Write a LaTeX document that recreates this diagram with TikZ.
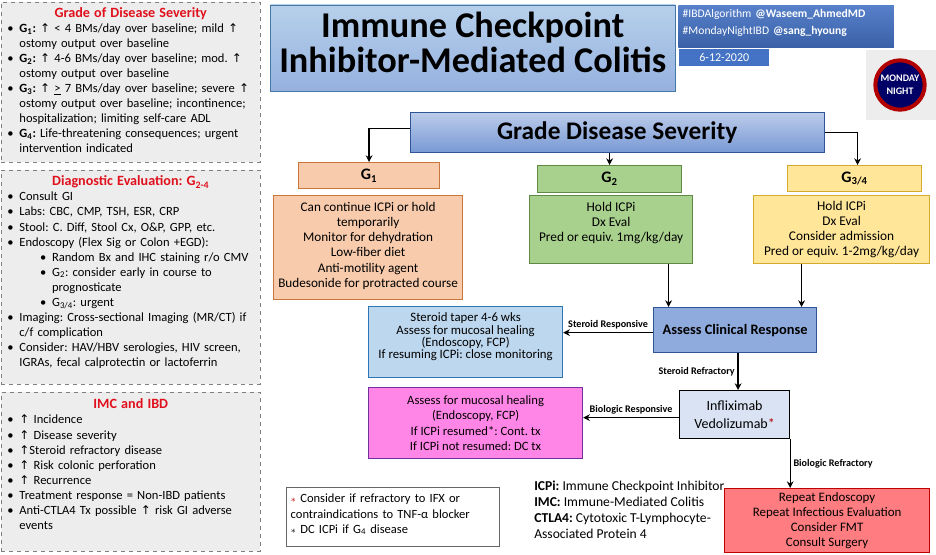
\documentclass[tikz,border=0pt]{standalone}
\usepackage{fontspec}
\setmainfont{Carlito}
\newfontfamily\symfont{DejaVu Sans}
\usetikzlibrary{arrows.meta, positioning, calc}
\frenchspacing

\definecolor{headred}{HTML}{E0101C}
\definecolor{panelgray}{HTML}{EDEDED}
\definecolor{orangefill}{HTML}{F8CBAD}
\definecolor{orangeline}{HTML}{C8763C}
\definecolor{greenfill}{HTML}{A9D18E}
\definecolor{greenline}{HTML}{5F8A43}
\definecolor{yellowfill}{HTML}{FFE699}
\definecolor{yellowline}{HTML}{D6A92F}
\definecolor{bluefill}{HTML}{BDD7EE}
\definecolor{blueline}{HTML}{2E75B6}
\definecolor{pinkfill}{HTML}{FF85E6}
\definecolor{pinkline}{HTML}{7030A0}
\definecolor{redfill}{HTML}{FF7C80}
\definecolor{redline}{HTML}{C00000}
\definecolor{paleblue}{HTML}{DAE3F3}
\definecolor{midblue}{HTML}{8FAADC}
\definecolor{darkblue}{HTML}{2F5597}
\definecolor{tagblue}{HTML}{4472C4}
\newcommand{\upar}{{\symfont\fontsize{9}{9}\selectfont ↑}}
\newcommand{\bul}[2][0pt]{\par\noindent\hspace*{#1}\makebox[11.5pt][l]{\hspace{2.5pt}\textbullet}\makebox[0pt][l]{#2}}
\newcommand{\cont}[2][0pt]{\par\noindent\hspace*{\dimexpr#1+11.5pt\relax}\makebox[0pt][l]{#2}}
\newcommand{\headline}[1]{{\centering\fontsize{10.6}{11.3}\selectfont\bfseries\color{headred}#1\par}}
\newcommand{\pad}[1]{\par\nointerlineskip\noindent\rule{0pt}{#1}\par}

\begin{document}
\begin{tikzpicture}[x=0.75pt, y=-0.75pt, >={Stealth[length=5pt,width=5pt]},
    every node/.style={font=\fontsize{10}{11.4}\selectfont},
    panel/.style={rectangle, draw=black!50, dashed, fill=panelgray, anchor=north west, inner xsep=2pt, inner ysep=2pt, text width=190pt, minimum width=194.25pt, align=left, font=\fontsize{9.4}{11.3}\selectfont},
    grade/.style={rectangle, line width=0.9pt, fill=#1, anchor=north west, align=center, inner ysep=1pt},
    flow/.style={->, line width=1pt},
    tag/.style={font=\fontsize{7.6}{9}\selectfont\bfseries, inner sep=2pt},
]
\useasboundingbox (0,0) rectangle (936,554);

% Left panels
\node[panel, minimum height=120pt] (severity) at (1,2) {%
  \headline{Grade of Disease Severity}
  \bul{\textbf{G\textsubscript{1}:} \upar{} < 4 BMs/day over baseline; mild \upar}
  \cont{ostomy output over baseline}
  \bul{\textbf{G\textsubscript{2}:} \upar{} 4-6 BMs/day over baseline; mod. \upar}
  \cont{ostomy output over baseline}
  \bul{\textbf{G\textsubscript{3}:} \upar{} \underline{>} 7 BMs/day over baseline; severe \upar}
  \cont{ostomy output over baseline; incontinence;}
  \cont{hospitalization; limiting self-care ADL}
  \bul{\textbf{G\textsubscript{4}:} Life-threatening consequences; urgent}
  \cont{intervention indicated}\pad{3pt}};
\node[panel, minimum height=160.5pt] (workup) at (1,170) {%
  \headline{Diagnostic Evaluation: G\textsubscript{2-4}}
  \bul{Consult GI}
  \bul{Labs: CBC, CMP, TSH, ESR, CRP}
  \bul{Stool: C. Diff, Stool Cx, O\&P, GPP, etc.}
  \bul{Endoscopy (Flex Sig or Colon +EGD):}
  \bul[24.5pt]{Random Bx and IHC staining r/o CMV}
  \bul[24.5pt]{G\textsubscript{2}: consider early in course to}
  \cont[24.5pt]{prognosticate}
  \bul[24.5pt]{G\textsubscript{3/4}: urgent}
  \bul{Imaging: Cross-sectional Imaging (MR/CT) if}
  \cont{c/f complication}
  \bul{Consider: HAV/HBV serologies, HIV screen,}
  \cont{IGRAs, fecal calprotectin or lactoferrin}\pad{7.5pt}};
\node[panel, minimum height=119pt] (overlap) at (1,392) {%
  \headline{IMC and IBD}
  \bul{\upar{} Incidence}
  \bul{\upar{} Disease severity}
  \bul{\upar Steroid refractory disease}
  \bul{\upar{} Risk colonic perforation}
  \bul{\upar{} Recurrence}
  \bul{Treatment response = Non-IBD patients}
  \bul{Anti-CTLA4 Tx possible \upar{} risk GI adverse}
  \cont{events}\pad{11pt}};

% Header
\node[rectangle, draw=blueline!70!gray, top color=bluefill!85!midblue, bottom color=midblue!85!bluefill, anchor=north west, minimum width=303.75pt, minimum height=65pt, align=center, font=\fontsize{27.2}{26.25}\selectfont\bfseries] (heading) at (270,4.5) {Immune Checkpoint\\Inhibitor-Mediated Colitis\\[-18pt]\mbox{}};
\node[rectangle, top color=tagblue!90!white, bottom color=tagblue!85!black, anchor=north west, minimum width=161pt, minimum height=32pt, inner ysep=0pt, text width=155pt, align=left, text=white, font=\fontsize{8.7}{12.5}\selectfont] (tags) at (678,5) {\#IBDAlgorithm \textbf{@Waseem\_AhmedMD}\\\#MondayNightIBD \textbf{@sang\_hyoung}\\[-5pt]\mbox{}};
\node[rectangle, fill=tagblue, anchor=north west, minimum width=67.5pt, minimum height=12.75pt, inner sep=0pt, text=white, font=\fontsize{9}{11}\selectfont] (date) at (679,49) {6-12-2020};

% Logo
\fill[black!7] (866,50) rectangle (936,120);
\node[circle, draw=red!70!black, line width=3pt, fill=blue!40!black, minimum size=37pt, inner sep=0pt, align=center, text=white, font=\fontsize{7.5}{9.75}\selectfont\bfseries] (logo) at (900,85) {MONDAY\\NIGHT};

% Flow
\node[rectangle, draw=darkblue, top color=paleblue!60!midblue, bottom color=midblue!70!tagblue, anchor=north west, minimum width=310.5pt, minimum height=30pt, font=\fontsize{19}{24}\selectfont\bfseries] (severe) at (410,112) {Grade Disease Severity};

\node[grade=orangefill, draw=orangeline, minimum width=105.75pt, minimum height=19.5pt, font=\fontsize{12}{14}\selectfont\bfseries] (gone) at (298,162) {G\textsubscript{1}};
\node[grade=orangefill, draw=orangeline, minimum width=141.75pt, minimum height=78pt, font=\fontsize{9.9}{11.4}\selectfont] (bodyone) at (273,195) {Can continue ICPi or hold\\temporarily\\Monitor for dehydration\\Low-fiber diet\\Anti-motility agent\\Budesonide for protracted course\\[-7pt]\mbox{}};

\node[grade=greenfill, draw=greenline, minimum width=108pt, minimum height=20pt, font=\fontsize{12}{14}\selectfont\bfseries] (gtwo) at (537,165) {G\textsubscript{2}};
\node[grade=greenfill, draw=greenline, minimum width=122.25pt, minimum height=51pt] (bodytwo) at (529,195) {Hold ICPi\\Dx Eval\\Pred or equiv. 1mg/kg/day\\\mbox{}};

\node[grade=yellowfill, draw=yellowline, minimum width=100.5pt, minimum height=19.5pt, font=\fontsize{12}{14}\selectfont\bfseries] (gthree) at (787,165) {G\textsubscript{3/4}};
\node[grade=yellowfill, draw=yellowline, minimum width=132pt, minimum height=51pt] (bodythree) at (753,195) {Hold ICPi\\Dx Eval\\Consider admission\\Pred or equiv. 1-2mg/kg/day};

\node[rectangle, draw=darkblue, line width=0.9pt, fill=midblue, anchor=north west, minimum width=122.25pt, minimum height=33.75pt, font=\fontsize{10.8}{14}\selectfont\bfseries] (assess) at (653,307) {Assess Clinical Response};
\node[grade=bluefill, draw=blueline, minimum width=145.5pt, minimum height=53.25pt, font=\fontsize{9.6}{9.3}\selectfont] (taper) at (368,306) {Steroid taper 4-6 wks\\Assess for mucosal healing\\(Endoscopy, FCP)\\If resuming ICPi: close monitoring\\\mbox{}};
\node[grade=pinkfill, draw=pinkline, minimum width=160.5pt, minimum height=53.25pt, font=\fontsize{9.5}{11.4}\selectfont] (healing) at (368,387) {Assess for mucosal healing\\(Endoscopy, FCP)\\If ICPi resumed*: Cont. tx\\If ICPi not resumed: DC tx};
\node[rectangle, draw=black, line width=0.9pt, fill=paleblue, anchor=north west, minimum width=82.5pt, minimum height=36pt, align=center, font=\fontsize{10.5}{13.5}\selectfont] (biologic) at (679,390) {Infliximab\\Vedolizumab{\color{red!70!black}*}};
\node[grade=redfill, draw=redline, minimum width=153.75pt, minimum height=48pt, font=\fontsize{9.7}{11.4}\selectfont] (rescue) at (724,488) {Repeat Endoscopy\\Repeat Infectious Evaluation\\Consider FMT\\Consult Surgery};

% Notes
\node[rectangle, draw=black!60, fill=white, anchor=north west, minimum width=159pt, minimum height=44.25pt, inner ysep=1pt, text width=153pt, align=left, font=\fontsize{9.4}{11.4}\selectfont] (note) at (286,487) {{\color{redline}\scriptsize$\ast$} Consider if refractory to IFX or\\contraindications to TNF-α blocker\\{\scriptsize$\ast$} DC ICPi if G\textsubscript{4} disease\\[-7pt]\mbox{}};
\node[anchor=north west, inner sep=0pt, align=left, font=\fontsize{10.2}{12}\selectfont] (abbrev) at (534,481) {\textbf{ICPi:} Immune Checkpoint Inhibitor\\\textbf{IMC:} Immune-Mediated Colitis\\\textbf{CTLA4:} Cytotoxic T-Lymphocyte-\\Associated Protein 4};

% Edges
\coordinate (twofoot) at ($(bodytwo.south)+(57.5,0)$);
\coordinate (threefoot) at ($(bodythree.south)+(-40,0)$);
\coordinate (assessfoot) at ($(assess.south)+(3,0)$);
\coordinate (assessside) at ($(assess.west)+(0,2.5)$);
\coordinate (biologicside) at ($(biologic.west)+(0,3)$);
\draw[flow] ($(severe.west)+(0,-4)$) -| (gone.north);
\draw[flow] (gtwo.north |- severe.south) -- (gtwo.north);
\draw[flow] (severe.east) -| ($(gthree.north)+(3,0)$);
\draw[flow] (twofoot) -- (twofoot |- assess.north);
\draw[flow] (threefoot) -- (threefoot |- assess.north);
\draw[flow] (assessside) -- node[tag, above] {Steroid Responsive} (assessside -| taper.east);
\draw[flow] (assessfoot) -- node[tag, left] {Steroid Refractory} (assessfoot |- biologic.north);
\draw[flow] (biologicside) -- node[tag, above] {Biologic Responsive} (biologicside -| healing.east);
\draw[flow] (biologic.south east) -- node[tag, right] {Biologic Refractory} (biologic.south east |- rescue.north);

\end{tikzpicture}
\end{document}
